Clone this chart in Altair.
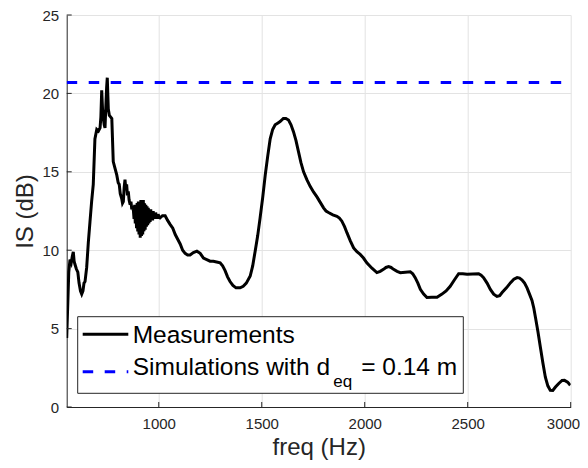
import altair as alt
import pandas as pd

FONT = "Liberation Sans"

# ---- data ----
freq = [553, 558, 563, 569, 575, 580, 585, 589, 593, 600, 607, 613, 620, 626, 632, 637, 642, 650,
        658, 666, 674, 682, 690, 699, 707, 715, 719, 723, 727, 731, 735, 739, 744, 747, 750, 753,
        755, 760, 766, 772, 779, 786, 796, 803, 808, 813, 820, 824, 828, 832, 836, 840, 844, 848,
        852, 856, 861, 865, 869, 873, 877,
        880, 883, 886, 889, 892, 895, 898, 901, 904, 907, 910, 913, 916, 919, 922, 925, 928, 931,
        934, 937, 940, 943, 946, 949, 952, 955, 958, 961, 964, 967, 970, 973, 976, 979, 982, 985,
        988, 991, 994, 997, 1001, 1006,
        1018, 1031, 1043, 1055, 1068, 1080, 1092, 1104, 1116, 1128, 1140, 1152, 1168, 1185, 1201,
        1217, 1233, 1249, 1265, 1281, 1298, 1310, 1322, 1334, 1346, 1360, 1375, 1395, 1410, 1425,
        1444, 1456, 1468, 1480, 1492, 1505, 1517, 1529, 1541, 1553, 1565, 1577, 1589, 1605, 1617,
        1630, 1642, 1654, 1666, 1678, 1690, 1703, 1719, 1735, 1752, 1768, 1784, 1800, 1812, 1824,
        1845, 1865, 1877, 1889, 1902, 1914, 1930, 1946, 1962, 1978, 1994, 2010, 2035, 2059, 2075,
        2091, 2103, 2116, 2128, 2140, 2157, 2173, 2197, 2221, 2233, 2245, 2258, 2270, 2286, 2302,
        2326, 2351, 2375, 2395, 2415, 2435, 2456, 2476, 2497, 2525, 2553, 2565, 2577, 2594, 2610,
        2626, 2642, 2655, 2667, 2688, 2708, 2724, 2740, 2752, 2764, 2776, 2788, 2800, 2812, 2821,
        2829, 2841, 2853, 2865, 2877, 2889, 2901, 2913, 2926, 2942, 2958, 2970, 2985, 2998]
is_db = [4.4, 6.5, 8.6, 9.4, 9.2, 9.6, 9.9, 9.3, 9.1, 8.8, 8.6, 7.9, 7.4, 7.2, 7.4, 7.9, 8.0, 8.9,
         10.5, 11.8, 13.1, 14.2, 17.1, 17.7, 17.6, 17.8, 18.5, 20.2, 19.0, 18.4, 18.0, 17.8, 19.5, 20.4, 21.0, 19.8,
         19.0, 18.6, 18.5, 18.4, 15.65, 15.3, 14.8, 14.3, 14.2, 13.6, 13.3, 13.0, 13.1, 14.0, 14.5, 13.9, 14.2, 13.5,
         13.75, 13.2, 12.9, 13.1, 12.6, 12.8, 12.5,
         12.0, 12.9, 11.7, 12.9, 11.4, 13.0, 11.2, 13.1, 11.0, 13.1, 10.8, 13.2, 10.9, 13.2, 11.0, 13.2, 11.2, 13.0,
         11.3, 12.9, 11.5, 12.8, 11.6, 12.7, 11.7, 12.6, 11.8, 12.6, 11.9, 12.5, 11.9, 12.5, 12.0, 12.4, 12.0, 12.4,
         12.1, 12.3, 12.0, 12.3, 12.1, 12.06,
         12.2, 12.2, 11.9, 11.65, 11.4, 11.0, 10.7, 10.4, 10.0, 9.8, 9.7, 9.7, 9.85, 9.94, 9.8,
         9.5, 9.4, 9.3, 9.3, 9.25, 9.2, 9.0, 8.7, 8.3, 8.0, 7.75, 7.6, 7.6, 7.7, 7.9,
         8.35, 9.0, 9.94, 10.9, 12.06, 13.4, 14.8, 16.0, 17.1, 17.7, 18.0, 18.1, 18.2, 18.4, 18.4,
         18.3, 18.0, 17.56, 17.0, 16.3, 15.6, 15.0, 14.5, 14.07, 13.7, 13.4, 13.05, 12.7, 12.5, 12.4,
         12.25, 12.16, 12.05, 11.85, 11.5, 11.1, 10.6, 10.15, 9.9, 9.73, 9.5, 9.2, 8.85, 8.57, 8.65,
         8.78, 8.9, 8.95, 8.9, 8.78, 8.65, 8.57, 8.6, 8.63, 8.5, 8.25, 7.9, 7.5, 7.2, 6.98,
         7.0, 7.0, 7.2, 7.4, 7.7, 8.1, 8.5, 8.5, 8.46, 8.48, 8.5, 8.4, 8.25, 7.9, 7.5,
         7.2, 7.05, 7.1, 7.3, 7.6, 7.93, 8.15, 8.25, 8.22, 8.1, 7.9, 7.6, 7.2, 6.8, 6.3,
         5.71, 4.8, 3.8, 2.8, 1.9, 1.35, 1.06, 1.05, 1.27, 1.5, 1.69, 1.7, 1.59, 1.38]

sim_freq = [553, 3000]
sim_level = [20.7, 20.7]

x_ticks = [1000, 1500, 2000, 2500, 3000]
y_ticks = [0, 5, 10, 15, 20, 25]

legend_labels = ["Measurements", "Simulations with d", "eq", "= 0.14 m"]

meas = pd.DataFrame({"freq": freq, "IS": is_db})
sim = pd.DataFrame({"freq": sim_freq, "IS": sim_level})

W, H = 504, 392
xscale = alt.Scale(domain=[553, 3000], nice=False, zero=False)
yscale = alt.Scale(domain=[0, 25], nice=False, zero=True)

xaxis = alt.Axis(values=x_ticks, format="d", title="freq (Hz)", grid=True, ticks=False, labelPadding=9,
                 labelFlush=True, labelFlushOffset=9, labelOverlap=False,
                 titleX=W / 2, titleY=47, titleBaseline="alphabetic", titleAnchor="middle")
yaxis = alt.Axis(values=y_ticks, format="d", title="IS (dB)", grid=True, ticks=False, labelPadding=8,
                 labelFlush=False, labelOverlap=False,
                 titleX=-34, titleY=H / 2, titleBaseline="alphabetic", titleAngle=-90)

meas_line = alt.Chart(meas).mark_line(color="black", strokeWidth=3, interpolate="linear", clip=True).encode(
    x=alt.X("freq:Q", scale=xscale, axis=xaxis),
    y=alt.Y("IS:Q", scale=yscale, axis=yaxis),
)

sim_line = alt.Chart(sim).mark_line(color="#0000ff", strokeWidth=3, strokeDash=[10.5, 11.5], clip=True).encode(
    x=alt.X("freq:Q", scale=xscale),
    y=alt.Y("IS:Q", scale=yscale),
)

xt = alt.Chart(pd.DataFrame({"t": x_ticks})).mark_rule(color="#262626", strokeWidth=1).encode(
    x=alt.X("t:Q", scale=xscale), y=alt.value(H), y2=alt.value(H - 5))
yt = alt.Chart(pd.DataFrame({"t": y_ticks})).mark_rule(color="#262626", strokeWidth=1).encode(
    y=alt.Y("t:Q", scale=yscale), x=alt.value(0), x2=alt.value(5))

one = pd.DataFrame({"k": [0]})
box = alt.Chart(one).mark_rect(fill="white", stroke="#262626", strokeWidth=1).encode(
    x=alt.value(11), x2=alt.value(396.6), y=alt.value(301.7), y2=alt.value(378.3))
leg_solid = alt.Chart(one).mark_rule(color="black", strokeWidth=3).encode(
    x=alt.value(16), x2=alt.value(61.6), y=alt.value(319.3))
leg_dash = alt.Chart(one).mark_rule(color="#0000ff", strokeWidth=3, strokeDash=[10.5, 11.5]).encode(
    x=alt.value(16), x2=alt.value(61.6), y=alt.value(356.7))

def ltxt(label, x, y, size):
    return alt.Chart(pd.DataFrame({"l": [label]})).mark_text(
        font=FONT, fontSize=size, color="black", align="left", baseline="alphabetic").encode(
        x=alt.value(x), y=alt.value(y), text="l:N")

t1 = ltxt(legend_labels[0], 66, 328.3, 24.5)
t2 = ltxt(legend_labels[1], 66, 360, 24.5)
t3 = ltxt(legend_labels[2], 266.5, 371.7, 17)
t4 = ltxt(legend_labels[3], 294.5, 360, 24.5)

chart = alt.layer(meas_line, sim_line, xt, yt, box, leg_solid, leg_dash, t1, t2, t3, t4).properties(
    width=W, height=H,
    autosize=alt.AutoSizeParams(type="none"),
    padding={"left": 58.7, "top": 7, "right": 9.3, "bottom": 53},
).configure_view(stroke=None).configure_axis(
    labelFont=FONT, labelFontSize=15, labelColor="#262626",
    titleFont=FONT, titleFontSize=24, titleColor="#262626", titleFontWeight="normal",
    domainColor="#262626", domainWidth=1, gridColor="#e3e3e3", gridWidth=1,
)

chart.save("out.html", embed_options={"renderer": "svg", "actions": False})
